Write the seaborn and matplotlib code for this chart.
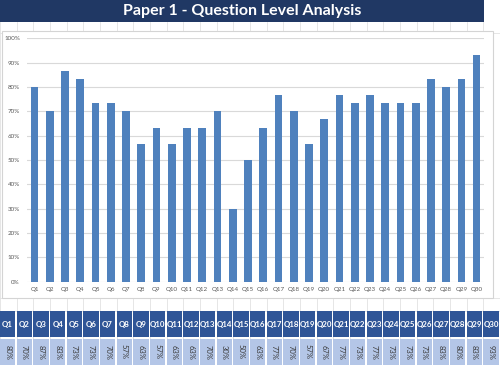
import matplotlib
matplotlib.use("Agg")
import matplotlib.pyplot as plt
import seaborn as sns
from matplotlib.patches import Rectangle
from matplotlib.lines import Line2D
from matplotlib.ticker import PercentFormatter

questions = ["Q1", "Q2", "Q3", "Q4", "Q5", "Q6", "Q7", "Q8", "Q9", "Q10",
             "Q11", "Q12", "Q13", "Q14", "Q15", "Q16", "Q17", "Q18", "Q19", "Q20",
             "Q21", "Q22", "Q23", "Q24", "Q25", "Q26", "Q27", "Q28", "Q29", "Q30"]
values = [80.0, 70.0, 86.7, 83.3, 73.3, 73.3, 70.0, 56.7, 63.3, 56.7,
          63.3, 63.3, 70.0, 30.0, 50.0, 63.3, 76.7, 70.0, 56.7, 66.7,
          76.7, 73.3, 76.7, 73.3, 73.3, 73.3, 83.3, 80.0, 83.3, 93.3]
value_labels = ["80%", "70%", "87%", "83%", "73%", "73%", "70%", "57%", "63%", "57%",
                "63%", "63%", "70%", "30%", "50%", "63%", "77%", "70%", "57%", "67%",
                "77%", "73%", "77%", "73%", "73%", "73%", "83%", "80%", "83%", "93%"]
y_ticks = [0, 10, 20, 30, 40, 50, 60, 70, 80, 90, 100]
title = "Paper 1 - Question Level Analysis"

W, H = 500, 365
def fx(x):
    return x / W
def fy(y):
    return 1 - y / H

fig = plt.figure(figsize=(5, 3.65), dpi=100, facecolor="white")

# spreadsheet grid background
col_w = 16.67
for k in range(31):
    x = k * col_w
    fig.add_artist(Line2D([fx(x), fx(x)], [fy(22), fy(365)], color="#E2E2E2", lw=0.6, zorder=0))
for y in [33, 298, 311]:
    fig.add_artist(Line2D([0, 1], [fy(y), fy(y)], color="#E2E2E2", lw=0.6, zorder=0))

# title band
fig.add_artist(Rectangle((0, fy(22)), fx(484), 22 / H, facecolor="#203864", edgecolor="none", zorder=1))
fig.text(fx(242), fy(11.5), title, color="white", fontsize=11.5, fontweight="bold",
         family=["Lato", "DejaVu Sans"], ha="center", va="center", zorder=2)

# chart box
fig.add_artist(Rectangle((fx(2), fy(298)), 491 / W, 267 / H, facecolor="white",
                         edgecolor="#D4D4D4", lw=0.8, zorder=1))

ax = fig.add_axes([fx(26.9), fy(281.7), 457.4 / W, (281.7 - 38.3) / H])
ax.set_zorder(3)
ax.patch.set_alpha(0)
sns.barplot(x=questions, y=values, color="#4F81BD", saturation=1, width=0.5, ax=ax)
ax.set_ylim(0, 100)
ax.set_yticks(y_ticks)
ax.yaxis.set_major_formatter(PercentFormatter(decimals=0))
ax.yaxis.grid(True, color="#D9D9D9", lw=0.8)
ax.set_axisbelow(True)
for s in ax.spines.values():
    s.set_visible(False)
ax.tick_params(axis="both", length=0, labelsize=4.5, colors="#595959")
ax.tick_params(axis="y", pad=5)
ax.tick_params(axis="x", pad=4)
for lab in ax.get_xticklabels() + ax.get_yticklabels():
    lab.set_family(["Lato", "DejaVu Sans"])
ax.set_xlabel("")
ax.set_ylabel("")

# table below
for i, (q, lab) in enumerate(zip(questions, value_labels)):
    x0 = i * col_w
    fig.add_artist(Rectangle((fx(x0), fy(337)), 15.3 / W, 26 / H, facecolor="#2F5597",
                             edgecolor="none", zorder=2))
    fig.text(fx(x0 + 7.65), fy(324), q, color="white", fontsize=5.7, fontweight="bold",
             family=["Lato", "DejaVu Sans"], ha="center", va="center", zorder=3)
    fig.add_artist(Rectangle((fx(x0), fy(366)), 15.3 / W, 27.3 / H, facecolor="#B4C6E7",
                             edgecolor="none", zorder=2))
    fig.text(fx(x0 + 7.65), fy(352), lab, color="#3A3A3A", fontsize=5.5, rotation=270,
             family=["Lato", "DejaVu Sans"], ha="center", va="center", zorder=3)

fig.savefig("out.png", dpi=100, facecolor="white")
